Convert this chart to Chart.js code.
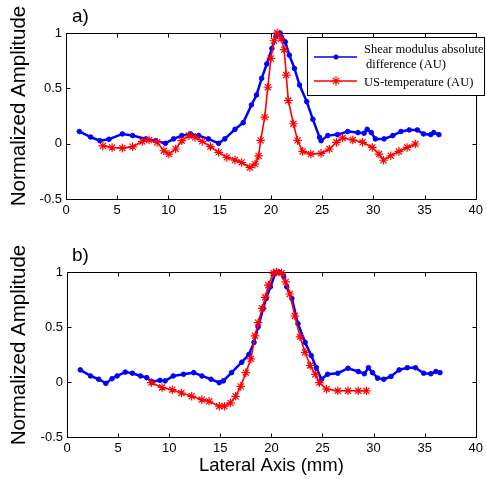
<!DOCTYPE html>
<html>
<head>
<meta charset="utf-8">
<script src="https://cdn.jsdelivr.net/npm/chart.js@4/dist/chart.umd.min.js"></script>
<style>
  body { margin: 0; background: #fff; width: 487px; height: 479px; position: relative; overflow: hidden; }
  .panel { position: absolute; left: 0; width: 487px; }
</style>
</head>
<body>
<div class="panel" style="top:0;height:232px"><canvas id="chartA"></canvas></div>
<div class="panel" style="top:238px;height:241px"><canvas id="chartB"></canvas></div>
<script>
// Values (lateral axis in mm, normalized amplitude)
const topBlueX = [1.3, 2.4, 3.3, 4.2, 5.5, 6.5, 7.8, 8.75, 9.7, 10.5, 11.3, 12.15, 12.95, 13.9, 14.9, 15.5, 16.5, 17.3, 18.1, 18.6, 19.1, 19.6, 20.1, 20.5, 20.9, 21.4, 21.8, 22.3, 22.8, 23.5, 24.1, 24.75, 24.9, 25.55, 26.5, 27.5, 28.5, 29.1, 29.4, 29.8, 30.2, 31.05, 31.9, 32.7, 33.5, 34.3, 34.9, 35.6, 35.9, 36.4];
const topBlueY = [0.11, 0.06, 0.027, 0.04, 0.088, 0.073, 0.043, 0.027, 0.003, 0.043, 0.073, 0.088, 0.073, 0.043, 0.003, 0.043, 0.13, 0.19, 0.35, 0.44, 0.59, 0.72, 0.86, 0.97, 1.0, 0.92, 0.80, 0.68, 0.53, 0.38, 0.22, 0.057, 0.027, 0.073, 0.082, 0.11, 0.10, 0.094, 0.13, 0.10, 0.043, 0.043, 0.073, 0.11, 0.124, 0.124, 0.088, 0.082, 0.10, 0.082];

const topRedX = [3.6, 4.5, 5.5, 6.5, 7.45, 8.1, 8.9, 9.55, 10.05, 10.7, 11.3, 12.0, 12.6, 13.3, 14.1, 14.9, 15.7, 16.5, 17.15, 17.95, 18.45, 18.8, 19.0, 19.4, 19.7, 20.0, 20.3, 20.6, 21.0, 21.3, 21.5, 21.7, 22.2, 22.6, 23.1, 23.9, 24.9, 25.7, 26.4, 27.0, 28.0, 28.95, 29.9, 30.55, 31.0, 31.7, 32.5, 33.3, 34.1];
const topRedY = [-0.02, -0.035, -0.04, -0.027, 0.02, 0.033, 0.012, -0.064, -0.094, -0.048, 0.027, 0.073, 0.057, 0.021, -0.027, -0.079, -0.124, -0.148, -0.17, -0.215, -0.185, -0.11, 0.03, 0.24, 0.51, 0.77, 0.93, 1.0, 0.95, 0.85, 0.62, 0.39, 0.18, 0.03, -0.07, -0.094, -0.088, -0.048, 0.012, 0.052, 0.033, 0.012, -0.034, -0.094, -0.15, -0.109, -0.07, -0.034, -0.003];

const botBlueX = [1.3, 2.3, 3.1, 3.8, 4.4, 4.9, 5.7, 6.4, 7.2, 7.8, 8.3, 9.1, 9.6, 10.4, 11.4, 12.4, 13.2, 14.1, 14.9, 15.3, 16.1, 17.1, 17.8, 18.3, 18.7, 19.2, 19.5, 19.9, 20.4, 20.7, 21.2, 21.5, 22.0, 22.6, 23.3, 23.9, 24.4, 24.9, 25.5, 26.5, 27.5, 28.5, 29.1, 29.5, 29.9, 30.4, 31.0, 31.7, 32.5, 33.3, 34.1, 34.9, 35.6, 36.1, 36.5];
const botBlueY = [0.11, 0.055, 0.025, -0.012, 0.03, 0.055, 0.09, 0.08, 0.055, 0.04, 0.003, 0.015, 0.01, 0.055, 0.07, 0.085, 0.055, 0.025, -0.006, 0.01, 0.085, 0.18, 0.25, 0.36, 0.50, 0.67, 0.76, 0.865, 0.99, 1.0, 0.96, 0.865, 0.76, 0.53, 0.36, 0.24, 0.13, 0.025, 0.07, 0.08, 0.125, 0.095, 0.075, 0.13, 0.085, 0.035, 0.025, 0.05, 0.11, 0.13, 0.13, 0.08, 0.075, 0.095, 0.085];

const botRedX = [8.25, 9.3, 10.3, 11.2, 12.2, 13.2, 13.9, 14.9, 15.4, 16.0, 16.5, 17.0, 17.5, 18.0, 18.4, 18.7, 19.1, 19.4, 19.7, 20.2, 20.5, 21.0, 21.4, 21.8, 22.3, 22.8, 23.3, 23.8, 24.3, 24.7, 25.4, 26.5, 27.5, 28.5, 29.3];
const botRedY = [-0.006, -0.05, -0.07, -0.10, -0.13, -0.16, -0.175, -0.22, -0.22, -0.19, -0.13, -0.04, 0.085, 0.21, 0.42, 0.54, 0.67, 0.77, 0.88, 0.99, 1.0, 0.99, 0.91, 0.80, 0.60, 0.41, 0.27, 0.15, 0.07, -0.006, -0.065, -0.08, -0.08, -0.08, -0.08];

const seriesNames = ['Shear modulus absolute difference (AU)', 'US-temperature (AU)'];
const legendLines = [['Shear modulus absolute', 'difference (AU)'], ['US-temperature (AU)']];
const xTitle = 'Lateral Axis (mm)';
const yTitle = 'Normalized Amplitude';

const BLUE = '#0000ff';
const RED = '#ff0000';
const SANS = '"Liberation Sans", Arial, sans-serif';
const SERIF = '"Liberation Serif", "Times New Roman", serif';

function toPoints(xs, ys) {
    return xs.map((x, i) => ({ x: x, y: ys[i] }));
}

// Box with inward ticks on all four sides (matlab style)
const framePlugin = {
    id: 'frame',
    beforeDatasetsDraw(chart) {
        const { ctx, chartArea: a, scales: { x, y } } = chart;
        const L = Math.round(a.left) + 0.5, R = Math.round(a.right) + 0.5;
        const T = Math.round(a.top) + 0.5, B = Math.round(a.bottom) + 0.5;
        ctx.save();
        ctx.strokeStyle = '#000';
        ctx.lineWidth = 1;
        ctx.strokeRect(L, T, R - L, B - T);
        ctx.beginPath();
        x.ticks.forEach(t => {
            const px = Math.round(x.getPixelForValue(t.value)) + 0.5;
            ctx.moveTo(px, B); ctx.lineTo(px, B - 4);
            ctx.moveTo(px, T); ctx.lineTo(px, T + 4);
        });
        y.ticks.forEach(t => {
            const py = Math.round(y.getPixelForValue(t.value)) + 0.5;
            ctx.moveTo(L, py); ctx.lineTo(L + 4, py);
            ctx.moveTo(R, py); ctx.lineTo(R - 4, py);
        });
        ctx.stroke();
        ctx.restore();
    }
};

// Panel letter and the rotated y title
function textPlugin(letter, letterY, titleY) {
    return {
        id: 'panelText',
        afterDraw(chart) {
            const ctx = chart.ctx;
            ctx.save();
            ctx.fillStyle = '#000';
            ctx.font = '19px ' + SANS;
            ctx.textBaseline = 'middle';
            ctx.textAlign = 'left';
            ctx.fillText(letter, 72, letterY);
            ctx.translate(19, titleY);
            ctx.rotate(-Math.PI / 2);
            ctx.textAlign = 'center';
            ctx.font = '20.5px ' + SANS;
            ctx.fillText(yTitle, 0, 0);
            ctx.restore();
        }
    };
}

function drawStar(ctx, cx, cy, r) {
    ctx.beginPath();
    for (let k = 0; k < 4; k++) {
        const ang = k * Math.PI / 4;
        ctx.moveTo(cx - r * Math.cos(ang), cy - r * Math.sin(ang));
        ctx.lineTo(cx + r * Math.cos(ang), cy + r * Math.sin(ang));
    }
    ctx.stroke();
}

// Legend box of the top panel
const legendPlugin = {
    id: 'boxLegend',
    afterDraw(chart) {
        const ctx = chart.ctx;
        ctx.save();
        ctx.fillStyle = '#fff';
        ctx.fillRect(307, 37, 178, 59);
        ctx.strokeStyle = '#000';
        ctx.lineWidth = 1;
        ctx.strokeRect(307.5, 37.5, 177, 58);

        ctx.strokeStyle = BLUE;
        ctx.lineWidth = 1.5;
        ctx.beginPath(); ctx.moveTo(314, 57); ctx.lineTo(357, 57); ctx.stroke();
        ctx.fillStyle = BLUE;
        ctx.beginPath(); ctx.arc(336, 57, 2.5, 0, Math.PI * 2); ctx.fill();

        ctx.strokeStyle = RED;
        ctx.beginPath(); ctx.moveTo(314, 81); ctx.lineTo(357, 81); ctx.stroke();
        ctx.lineWidth = 1.2;
        drawStar(ctx, 336, 81, 4.5);

        ctx.fillStyle = '#000';
        ctx.font = '12.5px ' + SERIF;
        ctx.textBaseline = 'middle';
        ctx.textAlign = 'left';
        ctx.fillText(legendLines[0][0], 364, 50);
        ctx.fillText(legendLines[0][1], 366, 65);
        ctx.fillText(legendLines[1][0], 364, 83);
        ctx.restore();
    }
};

function makeDatasets(blueX, blueY, redX, redY) {
    return [
        {
            label: seriesNames[0],
            data: toPoints(blueX, blueY),
            borderColor: BLUE,
            backgroundColor: BLUE,
            borderWidth: 2.5,
            pointStyle: 'circle',
            pointRadius: 2.3,
            pointBorderWidth: 1,
            tension: 0,
            clip: false,
            order: 2
        },
        {
            label: seriesNames[1],
            data: toPoints(redX, redY),
            borderColor: RED,
            backgroundColor: RED,
            borderWidth: 1.6,
            pointStyle: 'star',
            pointRadius: 4.3,
            pointBorderWidth: 1.2,
            tension: 0,
            clip: false,
            order: 1
        }
    ];
}

function makeOptions(padTop, yWidth, xHeight, withTitle) {
    return {
        responsive: true,
        maintainAspectRatio: false,
        animation: false,
        devicePixelRatio: 1,
        layout: { padding: { top: padTop, right: 8, left: 0, bottom: 0 } },
        plugins: { legend: { display: false }, tooltip: { enabled: false } },
        scales: {
            x: {
                type: 'linear',
                min: 0, max: 40,
                grid: { display: false, drawTicks: false },
                border: { display: false },
                ticks: { stepSize: 5, padding: 4, color: '#000', font: { family: SANS, size: 13 } },
                title: {
                    display: withTitle, text: xTitle, color: '#000',
                    font: { family: SANS, size: 18.5 }, padding: { top: 0, bottom: 2 }
                },
                afterFit: s => { s.height = xHeight; }
            },
            y: {
                min: -0.5, max: 1,
                grid: { display: false, drawTicks: false },
                border: { display: false },
                ticks: {
                    stepSize: 0.5, padding: 4, color: '#000', font: { family: SANS, size: 13 },
                    callback: v => String(Number(v.toFixed(2)))
                },
                afterFit: s => { s.width = yWidth; }
            }
        }
    };
}

new Chart(document.getElementById('chartA'), {
    type: 'line',
    data: { datasets: makeDatasets(topBlueX, topBlueY, topRedX, topRedY) },
    options: makeOptions(33, 66, 33, false),
    plugins: [framePlugin, textPlugin('a)', 17, 106), legendPlugin]
});

new Chart(document.getElementById('chartB'), {
    type: 'line',
    data: { datasets: makeDatasets(botBlueX, botBlueY, botRedX, botRedY) },
    options: makeOptions(34, 67, 42, true),
    plugins: [framePlugin, textPlugin('b)', 18, 107)]
});
</script>
</body>
</html>
